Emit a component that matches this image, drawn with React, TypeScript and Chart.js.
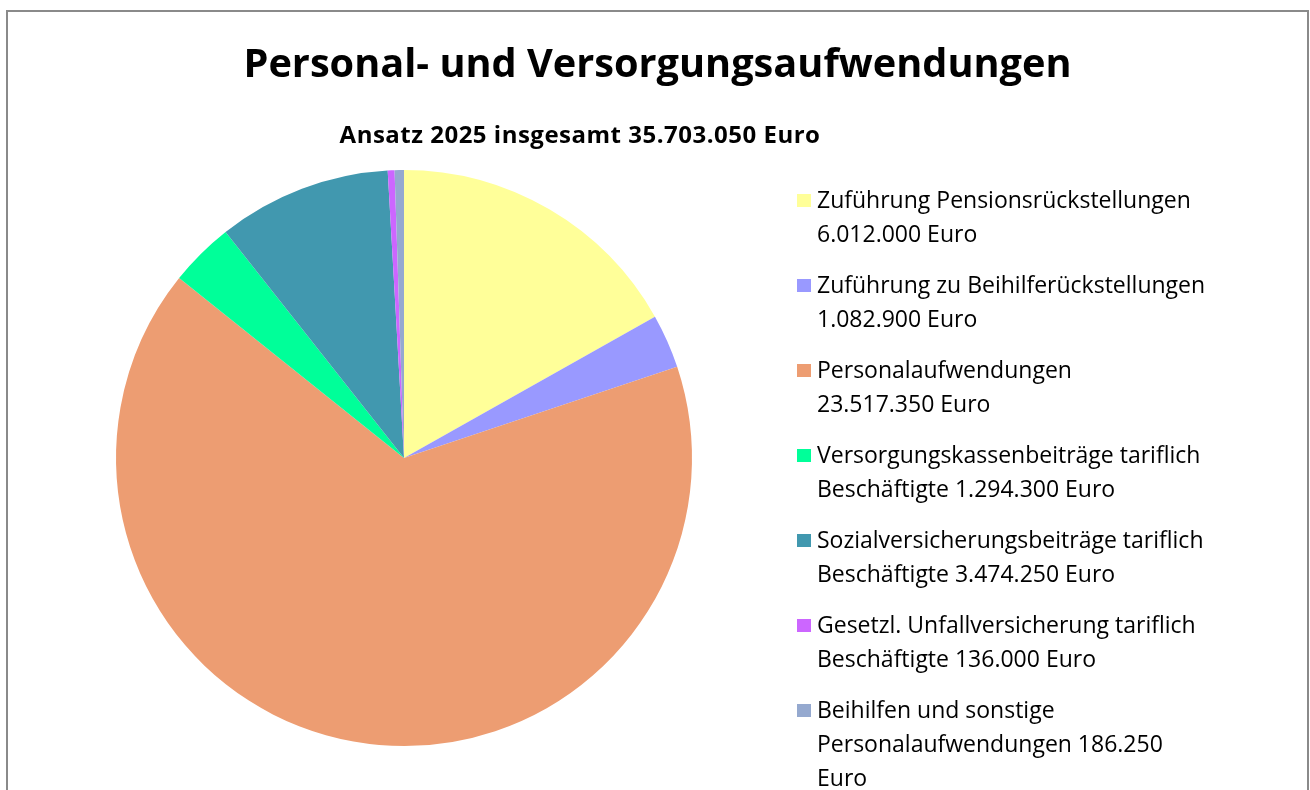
import React, { useEffect, useRef } from "react";
import { Chart, registerables } from "chart.js";

Chart.register(...registerables);

const titleText = "Personal- und Versorgungsaufwendungen";
const subtitleText = "Ansatz 2025 insgesamt 35.703.050 Euro";

const categories = [
  "Zuführung Pensionsrückstellungen",
  "Zuführung zu Beihilferückstellungen",
  "Personalaufwendungen",
  "Versorgungskassenbeiträge tariflich Beschäftigte",
  "Sozialversicherungsbeiträge tariflich Beschäftigte",
  "Gesetzl. Unfallversicherung tariflich Beschäftigte",
  "Beihilfen und sonstige Personalaufwendungen",
];

const values = [6012000, 1082900, 23517350, 1294300, 3474250, 136000, 186250];

const legendLines = [
  ["Zuführung Pensionsrückstellungen", "6.012.000 Euro"],
  ["Zuführung zu Beihilferückstellungen", "1.082.900 Euro"],
  ["Personalaufwendungen", "23.517.350 Euro"],
  ["Versorgungskassenbeiträge tariflich", "Beschäftigte 1.294.300 Euro"],
  ["Sozialversicherungsbeiträge tariflich", "Beschäftigte 3.474.250 Euro"],
  ["Gesetzl. Unfallversicherung tariflich", "Beschäftigte 136.000 Euro"],
  ["Beihilfen und sonstige", "Personalaufwendungen 186.250", "Euro"],
];

const colors = ["#FFFF99", "#9999FF", "#ED9D72", "#00FF99", "#4198AF", "#CC66FF", "#95A9CF"];

const FONT = "'Open Sans', Lato, sans-serif";

const overlayPlugin = {
  id: "overlay",
  afterDraw(chart: any) {
    const ctx = chart.ctx as any;
    ctx.save();
    // chart border
    ctx.strokeStyle = "#8a8a8a";
    ctx.lineWidth = 2;
    ctx.strokeRect(7, 11, 1301, 800);

    ctx.fillStyle = "#000";
    ctx.textBaseline = "alphabetic";
    ctx.textAlign = "center";
    ctx.font = `bold 39.7px ${FONT}`;
    ctx.fillText(titleText, 657.5, 77);
    ctx.font = `bold 24px ${FONT}`;
    ctx.letterSpacing = "0.5px";
    ctx.fillText(subtitleText, 580, 143);
    ctx.letterSpacing = "0px";

    // legend
    ctx.textAlign = "left";
    ctx.font = `23px ${FONT}`;
    const bg = chart.data.datasets[0].backgroundColor as string[];
    legendLines.forEach((lines, i) => {
      const base = 208 + 85 * i;
      ctx.fillStyle = bg[i];
      ctx.fillRect(797, base - 14, 14, 13);
      ctx.fillStyle = "#000";
      lines.forEach((ln, j) => {
        ctx.fillText(ln, 817, base + 34 * j);
      });
    });
    ctx.restore();
  },
};

export default function App() {
  const ref = useRef<HTMLCanvasElement | null>(null);
  useEffect(() => {
    if (!ref.current) return;
    const chart = new Chart(ref.current, {
      type: "pie",
      data: {
        labels: categories,
        datasets: [
          {
            data: values,
            backgroundColor: colors,
            borderWidth: 0,
          },
        ],
      },
      options: {
        responsive: false,
        animation: false,
        layout: { padding: { left: 116, right: 618, top: 170, bottom: 44 } },
        plugins: {
          legend: { display: false },
          title: { display: false },
          tooltip: { enabled: false },
        },
      },
      plugins: [overlayPlugin],
    });
    return () => chart.destroy();
  }, []);
  return (
    <div style={{ position: "fixed", left: 0, top: 0, width: 1310, height: 790, background: "#fff", overflow: "hidden" }}>
      <canvas ref={ref} width={1310} height={790} style={{ display: "block" }} />
    </div>
  );
}
